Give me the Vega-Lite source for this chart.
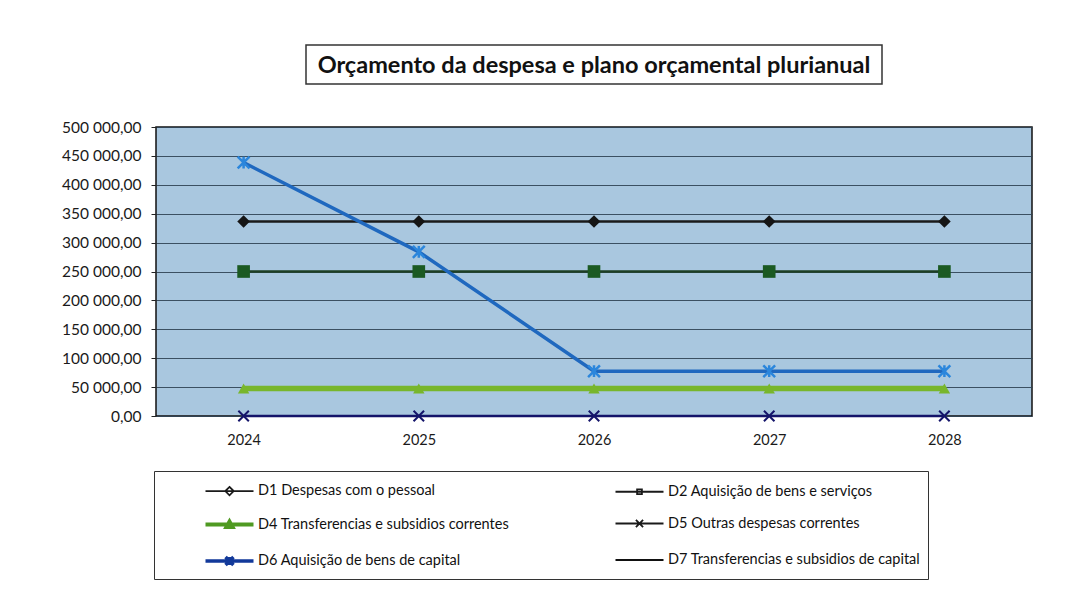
{
  "$schema": "https://vega.github.io/schema/vega-lite/v6.json",
  "background": "white",
  "padding": {"left": 60, "top": 44, "right": 10, "bottom": 10},
  "autosize": {"type": "pad"},
  "spacing": 43,
  "center": true,
  "bounds": "flush",
  "resolve": {
    "scale": {"stroke": "independent", "shape": "independent", "color": "independent", "strokeWidth": "independent"},
    "legend": {"stroke": "independent", "shape": "independent", "color": "independent", "strokeWidth": "independent"}
  },
  "config": {
    "locale": {"number": {"decimal": ",", "thousands": " ", "grouping": [3], "currency": ["", ""]}},
    "font": "Lato",
    "axis": {"labelFont": "Lato", "labelColor": "#1a1a1a"}
  },
  "vconcat": [
    {
      "width": 576,
      "height": 39,
      "data": {"values": [{"t": "Orçamento da despesa e plano orçamental plurianual"}]},
      "mark": {"type": "text", "font": "Lato", "fontSize": 23.5, "fontWeight": "bold", "color": "#111111", "baseline": "middle", "dy": 1},
      "encoding": {"text": {"field": "t"}},
      "view": {"stroke": "#333333", "strokeWidth": 1.5, "fill": "white"}
    },
    {
      "width": 876,
      "height": 289,
      "data": {
        "values": [
          {"year": "2024", "series": "D7 Transferencias e subsidios de capital", "value": 0},
          {"year": "2025", "series": "D7 Transferencias e subsidios de capital", "value": 0},
          {"year": "2026", "series": "D7 Transferencias e subsidios de capital", "value": 0},
          {"year": "2027", "series": "D7 Transferencias e subsidios de capital", "value": 0},
          {"year": "2028", "series": "D7 Transferencias e subsidios de capital", "value": 0},
          {"year": "2024", "series": "D1 Despesas com o pessoal", "value": 336500},
          {"year": "2025", "series": "D1 Despesas com o pessoal", "value": 336500},
          {"year": "2026", "series": "D1 Despesas com o pessoal", "value": 336500},
          {"year": "2027", "series": "D1 Despesas com o pessoal", "value": 336500},
          {"year": "2028", "series": "D1 Despesas com o pessoal", "value": 336500},
          {"year": "2024", "series": "D2 Aquisição de bens e serviços", "value": 250000},
          {"year": "2025", "series": "D2 Aquisição de bens e serviços", "value": 250000},
          {"year": "2026", "series": "D2 Aquisição de bens e serviços", "value": 250000},
          {"year": "2027", "series": "D2 Aquisição de bens e serviços", "value": 250000},
          {"year": "2028", "series": "D2 Aquisição de bens e serviços", "value": 250000},
          {"year": "2024", "series": "D4 Transferencias e subsidios correntes", "value": 47500},
          {"year": "2025", "series": "D4 Transferencias e subsidios correntes", "value": 47500},
          {"year": "2026", "series": "D4 Transferencias e subsidios correntes", "value": 47500},
          {"year": "2027", "series": "D4 Transferencias e subsidios correntes", "value": 47500},
          {"year": "2028", "series": "D4 Transferencias e subsidios correntes", "value": 47500},
          {"year": "2024", "series": "D5 Outras despesas correntes", "value": 0},
          {"year": "2025", "series": "D5 Outras despesas correntes", "value": 0},
          {"year": "2026", "series": "D5 Outras despesas correntes", "value": 0},
          {"year": "2027", "series": "D5 Outras despesas correntes", "value": 0},
          {"year": "2028", "series": "D5 Outras despesas correntes", "value": 0},
          {"year": "2024", "series": "D6 Aquisição de bens de capital", "value": 438500},
          {"year": "2025", "series": "D6 Aquisição de bens de capital", "value": 284000},
          {"year": "2026", "series": "D6 Aquisição de bens de capital", "value": 77500},
          {"year": "2027", "series": "D6 Aquisição de bens de capital", "value": 77500},
          {"year": "2028", "series": "D6 Aquisição de bens de capital", "value": 77500}
        ]
      },
      "view": {"fill": "#a9c7df", "stroke": "#111111", "strokeWidth": 1.5},
      "encoding": {
        "x": {"field": "year", "type": "ordinal", "scale": {"type": "point", "padding": 0.5},
              "axis": {"title": null, "labelAngle": 0, "ticks": false, "domain": false, "labelPadding": 17, "labelFontSize": 14.5, "grid": false}},
        "y": {"field": "value", "type": "quantitative", "scale": {"domain": [0, 500000], "nice": false},
              "axis": {"title": null, "tickCount": 10, "format": ",.2f", "labelFontSize": 15.5, "tickSize": 5, "tickColor": "#222222", "labelPadding": 10, "domain": false, "gridColor": "#2f4354", "gridOpacity": 0.9, "gridWidth": 1.2}}
      },
      "layer": [
        {
          "transform": [{"filter": {"field": "series", "equal": "D7 Transferencias e subsidios de capital"}}],
          "mark": {"type": "line", "color": "#111111", "strokeWidth": 2}
        },
        {
          "transform": [{"filter": {"field": "series", "equal": "D1 Despesas com o pessoal"}}],
          "mark": {"type": "line", "color": "#1a1a1a", "strokeWidth": 2.5}
        },
        {
          "transform": [{"filter": {"field": "series", "equal": "D2 Aquisição de bens e serviços"}}],
          "mark": {"type": "line", "color": "#1d3f24", "strokeWidth": 2.5}
        },
        {
          "transform": [{"filter": {"field": "series", "equal": "D4 Transferencias e subsidios correntes"}}],
          "mark": {"type": "line", "color": "#78b62c", "strokeWidth": 5.5}
        },
        {
          "transform": [{"filter": {"field": "series", "equal": "D5 Outras despesas correntes"}}],
          "mark": {"type": "line", "color": "#14146a", "strokeWidth": 2.5}
        },
        {
          "transform": [{"filter": {"field": "series", "equal": "D6 Aquisição de bens de capital"}}],
          "mark": {"type": "line", "color": "#1f68bf", "strokeWidth": 3.5}
        },
        {
          "transform": [{"filter": {"field": "series", "equal": "D1 Despesas com o pessoal"}}],
          "mark": {"type": "point", "shape": "diamond", "filled": true, "color": "#151515", "size": 160, "opacity": 1}
        },
        {
          "transform": [{"filter": {"field": "series", "equal": "D2 Aquisição de bens e serviços"}}],
          "mark": {"type": "point", "shape": "square", "filled": true, "color": "#1b5a22", "size": 160, "opacity": 1}
        },
        {
          "transform": [{"filter": {"field": "series", "equal": "D4 Transferencias e subsidios correntes"}}],
          "mark": {"type": "point", "shape": "triangle-up", "filled": true, "color": "#78b62c", "size": 130, "opacity": 1}
        },
        {
          "transform": [{"filter": {"field": "series", "equal": "D5 Outras despesas correntes"}}],
          "mark": {"type": "point", "shape": "M-1,-1L1,1M-1,1L1,-1", "filled": false, "color": "#14146a", "size": 110, "strokeWidth": 2, "opacity": 1}
        },
        {
          "transform": [{"filter": {"field": "series", "equal": "D6 Aquisição de bens de capital"}}],
          "mark": {"type": "point", "shape": "M-1,-1L1,1M-1,1L1,-1M0,-1L0,1", "filled": false, "color": "#2b86dc", "size": 140, "strokeWidth": 2.5, "opacity": 1}
        },
        {
          "transform": [{"filter": {"field": "value", "lt": 0}}],
          "mark": {"type": "point", "filled": false, "opacity": 1},
          "encoding": {
            "stroke": {"field": "series", "type": "nominal",
              "scale": {
                "domain": ["D1 Despesas com o pessoal", "D4 Transferencias e subsidios correntes", "D6 Aquisição de bens de capital", "D2 Aquisição de bens e serviços", "D5 Outras despesas correntes", "D7 Transferencias e subsidios de capital"],
                "range": ["#1a1a1a", "#4f9a22", "#12399a", "#1a1a1a", "#1a1a1a", "#111111"]
              },
              "legend": {
                "orient": "none", "legendX": -2, "legendY": 344, "columns": 2, "title": null,
                "strokeColor": "#333333", "fillColor": "white", "padding": 7,
                "symbolOffset": 54.5, "labelOffset": 14.5, "symbolSize": 576, "symbolStrokeWidth": 2, "symbolOpacity": 1,
                "labelFont": "Lato", "labelFontSize": 14.5, "labelColor": "#111111", "labelLimit": 450,
                "rowPadding": 11.5, "columnPadding": 61
              }},
            "strokeWidth": {"field": "series", "type": "nominal",
              "scale": {
                "type": "ordinal",
                "domain": ["D1 Despesas com o pessoal", "D4 Transferencias e subsidios correntes", "D6 Aquisição de bens de capital", "D2 Aquisição de bens e serviços", "D5 Outras despesas correntes", "D7 Transferencias e subsidios de capital"],
                "range": [1.8, 4, 3.5, 1.8, 1.8, 1.8]
              }},
            "shape": {"field": "series", "type": "nominal",
              "scale": {
                "domain": ["D1 Despesas com o pessoal", "D4 Transferencias e subsidios correntes", "D6 Aquisição de bens de capital", "D2 Aquisição de bens e serviços", "D5 Outras despesas correntes", "D7 Transferencias e subsidios de capital"],
                "range": [
                  "M-2,0L2,0M0,-0.35L0.35,0L0,0.35L-0.35,0Z",
                  "M-2,0L2,0M-0.25,0.2L0,-0.25L0.25,0.2Z",
                  "M-2,0L2,0M-0.33,-0.33L0.33,0.33M-0.33,0.33L0.33,-0.33M0,-0.33L0,0.33",
                  "M-2,0L2,0M-0.2,-0.2L0.2,-0.2L0.2,0.2L-0.2,0.2Z",
                  "M-2,0L2,0M-0.3,-0.3L0.3,0.3M-0.3,0.3L0.3,-0.3",
                  "M-2,0L2,0"
                ]
              }}
          }
        }
      ]
    }
  ]
}
